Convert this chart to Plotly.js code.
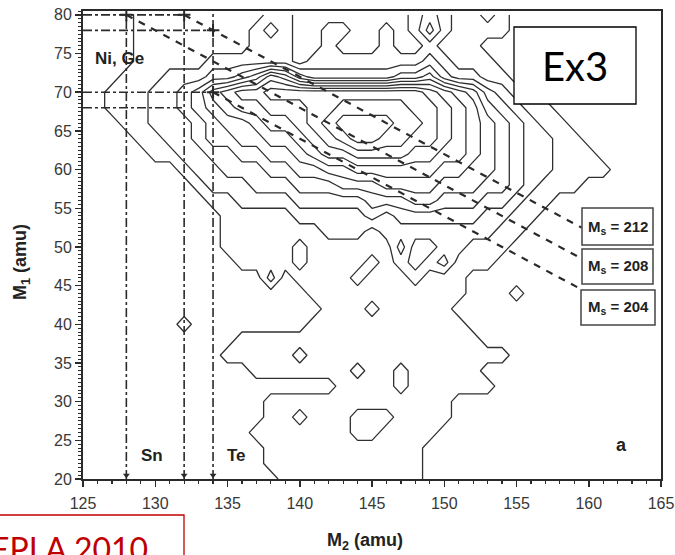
<!DOCTYPE html>
<html>
<head>
<meta charset="utf-8">
<script src="https://cdn.plot.ly/plotly-3.0.1.min.js"></script>
<style>html,body{margin:0;padding:0;background:#fff;}#chart{width:675px;height:555px;}</style>
</head>
<body>
<div id="chart"></div>
<script>
// M2 grid (amu), columns
var m2Grid = [125,126,127,128,129,130,131,132,133,134,135,136,137,138,139,140,141,142,143,144,145,146,147,148,149,150,151,152,153,154,155,156,157,158,159,160,161,162,163,164,165];
// M1 grid (amu), rows listed from top (80) to bottom (20)
var m1Grid = [80,78,76,74,72,70,68,66,64,62,60,58,56,54,52,50,48,46,44,42,40,38,36,34,32,30,28,26,24,22,20];
// counts (rows follow m1Grid)
var counts = [
 [0,0,0,0,1, 1,1,1,1,1, 1,1,1,2,2, 1,1,1,1,1, 1,1,1,2,3, 2,1,1,2,1, 0,0,0,0,0, 0,0,0,0,0, 0],
 [0,0,0,0,1, 1,1,1,1,1, 1,1,2,3,2, 1,1,2,2,1, 1,2,1,2,4, 2,1,1,1,1, 0,0,0,0,0, 0,0,0,0,0, 0],
 [0,0,0,0,1, 1,1,1,1,1, 1,1,2,2,2, 1,1,2,1,1, 1,2,1,1,2, 1,1,1,0,0, 0,0,0,0,0, 0,0,0,0,0, 0],
 [0,0,0,0,1, 1,1,1,1,2, 2,2,2,2,2, 1,2,2,2,2, 2,2,2,2,3, 2,1,1,1,0, 0,0,0,0,0, 0,0,0,0,0, 0],
 [0,0,0,1,1, 1,2,2,2,3, 3,4,5,7,6, 4,3,3,3,3, 3,3,4,4,5, 3,2,2,1,1, 0,0,0,0,0, 0,0,0,0,0, 0],
 [0,0,1,1,1, 2,2,3,4,6, 7,8,8,9,9, 9,9,9,9,9, 9,9,9,9,8, 7,6,5,3,2, 1,1,0,0,0, 0,0,0,0,0, 0],
 [0,0,1,1,1, 2,2,3,4,5, 6,7,7,8,8, 8,9,9,10,10, 10,10,10,9,9, 8,7,6,4,3, 2,1,1,0,0, 0,0,0,0,0, 0],
 [0,0,0,1,1, 2,2,2,3,4, 5,5,6,7,7, 8,9,10,11,11, 11,11,10,10,9, 8,7,6,5,4, 3,2,1,1,0, 0,0,0,0,0, 0],
 [0,0,0,0,1, 1,2,2,3,4, 4,5,5,6,6, 7,8,9,10,11, 11,10,10,9,9, 8,7,6,5,4, 3,2,2,1,1, 0,0,0,0,0, 0],
 [0,0,0,0,0, 1,1,2,2,3, 3,4,4,5,5, 6,7,8,8,9, 9,9,9,8,8, 7,7,6,5,4, 3,2,2,1,1, 1,0,0,0,0, 0],
 [0,0,0,0,0, 0,0,1,2,2, 3,3,3,4,4, 5,5,6,6,7, 7,7,7,7,7, 6,6,5,5,4, 3,2,2,1,1, 1,1,0,0,0, 0],
 [0,0,0,0,0, 0,0,0,1,2, 2,2,3,3,3, 4,4,4,5,5, 5,6,6,6,6, 5,5,5,4,4, 3,2,1,1,1, 0,0,0,0,0, 0],
 [0,0,0,0,0, 0,0,0,0,1, 1,2,2,2,2, 3,3,3,3,3, 4,4,4,5,5, 4,4,4,3,3, 2,1,1,0,0, 0,0,0,0,0, 0],
 [0,0,0,0,0, 0,0,0,0,0, 1,1,1,1,1, 2,2,2,2,2, 3,2,3,3,3, 3,3,3,2,2, 1,1,0,0,0, 0,0,0,0,0, 0],
 [0,0,0,0,0, 0,0,0,0,0, 1,1,1,1,1, 1,1,2,2,2, 1,2,2,2,2, 2,2,2,2,1, 1,0,0,0,0, 0,0,0,0,0, 0],
 [0,0,0,0,0, 0,0,0,0,0, 1,1,1,1,1, 0,1,1,1,1, 1,1,3,1,1, 2,2,1,1,1, 0,0,0,0,0, 0,0,0,0,0, 0],
 [0,0,0,0,0, 0,0,0,0,0, 0,1,1,1,1, 0,1,1,1,1, 2,1,2,1,2, 3,1,1,1,0, 0,0,0,0,0, 0,0,0,0,0, 0],
 [0,0,0,0,0, 0,0,0,0,0, 0,0,0,2,0, 1,1,1,1,2, 1,1,1,2,1, 1,1,0,0,0, 0,0,0,0,0, 0,0,0,0,0, 0],
 [0,0,0,0,0, 0,0,0,0,0, 0,0,0,0,0, 0,1,1,1,1, 1,1,1,1,1, 1,1,0,0,0, 1,0,0,0,0, 0,0,0,0,0, 0],
 [0,0,0,0,0, 0,0,0,0,0, 0,0,0,0,0, 0,0,1,1,1, 0,1,1,1,1, 1,0,0,0,0, 0,0,0,0,0, 0,0,0,0,0, 0],
 [0,0,0,0,0, 0,0,1,0,0, 0,0,0,0,0, 0,1,1,1,1, 1,1,1,1,1, 1,1,0,0,0, 0,0,0,0,0, 0,0,0,0,0, 0],
 [0,0,0,0,0, 0,0,0,0,0, 0,1,1,1,1, 1,1,1,1,1, 1,1,1,1,1, 1,1,1,0,0, 0,0,0,0,0, 0,0,0,0,0, 0],
 [0,0,0,0,0, 0,0,0,0,0, 1,1,1,1,1, 2,1,1,1,1, 1,1,1,1,1, 1,1,1,1,1, 0,0,0,0,0, 0,0,0,0,0, 0],
 [0,0,0,0,0, 0,0,0,0,0, 0,0,1,1,1, 1,1,1,1,0, 1,1,0,1,1, 1,1,1,0,0, 0,0,0,0,0, 0,0,0,0,0, 0],
 [0,0,0,0,0, 0,0,0,0,0, 0,0,0,0,0, 0,0,0,1,1, 1,1,0,1,1, 1,1,1,1,0, 0,0,0,0,0, 0,0,0,0,0, 0],
 [0,0,0,0,0, 0,0,0,0,0, 0,0,0,1,1, 1,1,1,1,1, 1,1,1,1,1, 1,0,0,0,0, 0,0,0,0,0, 0,0,0,0,0, 0],
 [0,0,0,0,0, 0,0,0,0,0, 0,0,0,1,1, 0,1,1,1,0, 0,0,1,1,1, 1,0,0,0,0, 0,0,0,0,0, 0,0,0,0,0, 0],
 [0,0,0,0,0, 0,0,0,0,0, 0,0,1,1,1, 1,1,1,1,0, 0,1,1,1,1, 0,0,0,0,0, 0,0,0,0,0, 0,0,0,0,0, 0],
 [0,0,0,0,0, 0,0,0,0,0, 0,0,0,1,1, 1,1,1,1,1, 1,1,1,1,0, 0,0,0,0,0, 0,0,0,0,0, 0,0,0,0,0, 0],
 [0,0,0,0,0, 0,0,0,0,0, 0,0,0,1,1, 1,1,1,1,1, 1,1,1,1,0, 0,0,0,0,0, 0,0,0,0,0, 0,0,0,0,0, 0],
 [0,0,0,0,0, 0,0,0,0,0, 0,0,0,0,1, 1,1,1,1,1, 1,1,1,1,0, 0,0,0,0,0, 0,0,0,0,0, 0,0,0,0,0, 0]
];

// constant-sum lines M1 + M2 = Ms (end points, amu)
var ms212M2 = [132, 159.5], ms212M1 = [80, 52.5];
var ms208M2 = [128, 159.5], ms208M1 = [80, 48.5];
var ms204M2 = [134, 159.3], ms204M1 = [70, 44.7];
var msLabels = ['M<sub>s</sub> = 212', 'M<sub>s</sub> = 208', 'M<sub>s</sub> = 204'];

// fragment-mass reference lines (amu)
var vertM2 = [128, 132, 134];
var horizM1 = [80, 78, 70, 68];
var horizEndM2 = [132, 134, 134, 132];
var crossM2 = [128, 132, 134, 134];
var crossM1 = [80, 80, 78, 70];

var tickX = [125,130,135,140,145,150,155,160,165];
var tickY = [20,25,30,35,40,45,50,55,60,65,70,75,80];

var m1Asc = m1Grid.slice().reverse();
var countsAsc = counts.slice().reverse();

var ink = '#2a2a2a';
var traces = [];
traces.push({
  type: 'contour', x: m2Grid, y: m1Asc, z: countsAsc,
  contours: {start: 0.5, end: 11.5, size: 1, coloring: 'lines', showlabels: false},
  line: {width: 1.3, smoothing: 0},
  colorscale: [[0, '#303030'], [1, '#303030']], showscale: false, hoverinfo: 'skip'
});
[[ms212M2, ms212M1], [ms208M2, ms208M1], [ms204M2, ms204M1]].forEach(function (p) {
  traces.push({type: 'scatter', mode: 'lines', x: p[0], y: p[1],
    line: {color: ink, width: 2.2, dash: '7px,7px'}, hoverinfo: 'skip', showlegend: false});
});
vertM2.forEach(function (v) {
  traces.push({type: 'scatter', mode: 'lines', x: [v, v], y: [20, 80.5],
    line: {color: ink, width: 1.6, dash: 'dashdot'}, hoverinfo: 'skip', showlegend: false});
});
horizM1.forEach(function (h, i) {
  traces.push({type: 'scatter', mode: 'lines', x: [125, horizEndM2[i]], y: [h, h],
    line: {color: ink, width: 1.6, dash: 'dashdot'}, hoverinfo: 'skip', showlegend: false});
});
traces.push({type: 'scatter', mode: 'markers', x: crossM2, y: crossM1,
  marker: {symbol: 'cross-thin', size: 9, line: {color: ink, width: 2}}, hoverinfo: 'skip', showlegend: false});
traces.push({type: 'scatter', mode: 'markers', x: vertM2, y: [20.5, 20.5, 20.5],
  marker: {symbol: 'triangle-down', size: 6, color: ink}, hoverinfo: 'skip', showlegend: false});

function px2x(px) { return (px - 83) / 578; }
function py2y(py) { return (479 - py) / 468; }
function box(x0, y0, x1, y1, col, w) {
  return {type: 'rect', xref: 'paper', yref: 'paper', x0: px2x(x0), x1: px2x(x1), y0: py2y(y1), y1: py2y(y0),
    line: {color: col, width: w}, fillcolor: 'white', layer: 'above'};
}
var shapes = [
  box(514, 27, 636, 104, '#000', 1.3),
  box(582, 208, 653, 245, '#444', 1.5),
  box(582, 249, 653, 284, '#444', 1.5),
  box(581, 290, 655, 325, '#444', 1.5),
  box(-20, 515, 184, 620, '#c00000', 1.3)
];

function note(xp, yp, text, font, extra) {
  var a = {xref: 'paper', yref: 'paper', x: px2x(xp), y: py2y(yp), text: text, showarrow: false,
    xanchor: 'center', yanchor: 'middle', font: font};
  if (extra) { for (var k in extra) { a[k] = extra[k]; } }
  return a;
}
function label(x, y, text, size) {
  return {xref: 'x', yref: 'y', x: x, y: y, text: '<b>' + text + '</b>', showarrow: false,
    xanchor: 'center', yanchor: 'middle', font: {family: sans, size: size, color: '#222'}};
}
var sans = 'Liberation Sans, Arial, sans-serif';
var msFont = {family: sans, size: 15, color: '#222'};
var annotations = [
  note(575, 66, 'Ex3', {family: 'Lato, sans-serif', size: 40, color: '#000'}),
  note(617.5, 227, '<b>' + msLabels[0] + '</b>', msFont),
  note(617.5, 266, '<b>' + msLabels[1] + '</b>', msFont),
  note(618, 307, '<b>' + msLabels[2] + '</b>', msFont),
  label(127.5, 74.3, 'Ni, Ge', 17),
  label(129.8, 23.1, 'Sn', 17),
  label(135.6, 23.1, 'Te', 17),
  label(162.3, 24.4, 'a', 18),
  note(21, 262, '<b>M<sub>1</sub> (amu)</b>', {family: sans, size: 18, color: '#222'}, {textangle: -90}),
  note(365, 541, '<b>M<sub>2</sub> (amu)</b>', {family: sans, size: 18, color: '#222'}),
  note(150, 527, 'EPLA 2010', {family: 'Lato, sans-serif', size: 32, color: '#c00000'}, {xanchor: 'right', yanchor: 'top'})
];

var tickFont = {family: sans, size: 16, color: '#383838'};
var layout = {
  width: 675, height: 555,
  margin: {l: 83, r: 14, t: 11, b: 76, pad: 0},
  paper_bgcolor: '#fff', plot_bgcolor: '#fff',
  showlegend: false,
  xaxis: {range: [125, 165], tickvals: tickX, ticktext: tickX.map(String), ticks: 'outside', ticklen: 6, tickwidth: 1.5,
    tickcolor: ink, linecolor: ink, linewidth: 2, mirror: true, showgrid: false, zeroline: false, tickfont: tickFont,
    ticklabelstandoff: 3,
    minor: {dtick: 1, tick0: 125, ticks: 'outside', ticklen: 3, tickwidth: 1.2, tickcolor: ink, showgrid: false}},
  yaxis: {range: [20, 80.5], tickvals: tickY, ticktext: tickY.map(String), ticks: 'outside', ticklen: 6, tickwidth: 1.5,
    tickcolor: ink, linecolor: ink, linewidth: 2, mirror: true, showgrid: false, zeroline: false, tickfont: tickFont,
    minor: {dtick: 0.5, tick0: 20, ticks: 'outside', ticklen: 3, tickwidth: 1, tickcolor: ink, showgrid: false}},
  shapes: shapes,
  annotations: annotations
};
Plotly.newPlot('chart', traces, layout, {staticPlot: true, displayModeBar: false});
</script>
</body>
</html>
